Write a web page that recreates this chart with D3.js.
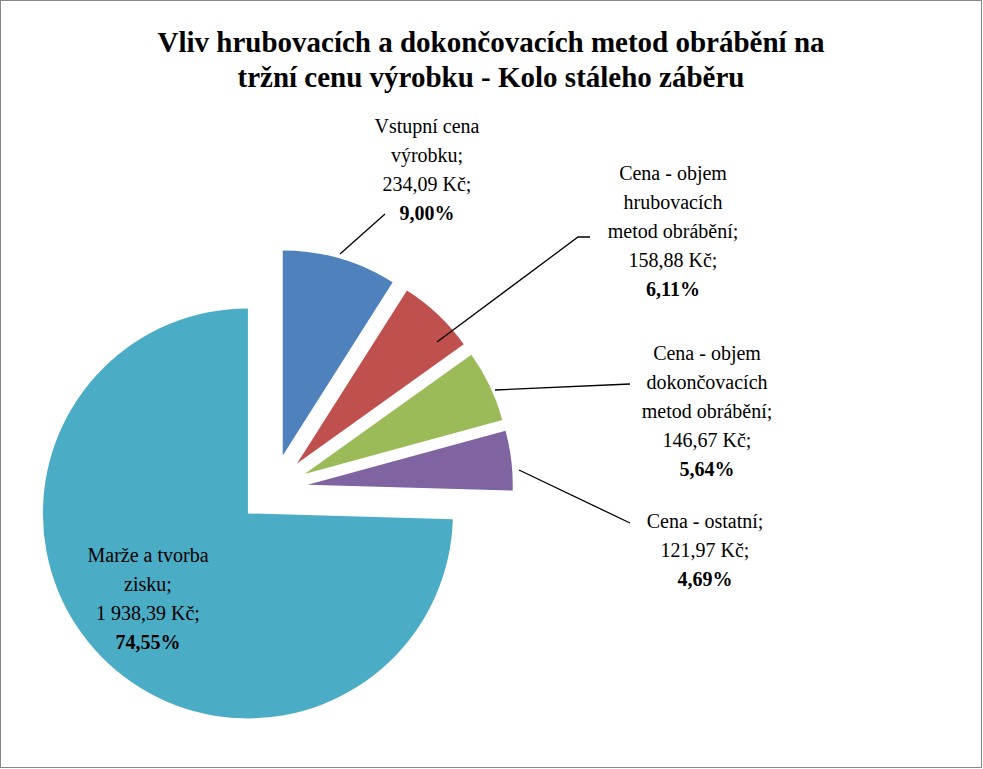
<!DOCTYPE html>
<html><head><meta charset="utf-8">
<script src="https://cdn.jsdelivr.net/npm/d3@7"></script>
<style>body{margin:0;background:#fff}</style></head>
<body><svg id="c" width="983" height="769"></svg>
<script>
const categories = ["Vstupní cena výrobku","Cena - objem hrubovacích metod obrábění","Cena - objem dokončovacích metod obrábění","Cena - ostatní","Marže a tvorba zisku"];
const values = [234.09,158.88,146.67,121.97,1938.39];
const percents = ["9,00%","6,11%","5,64%","4,69%","74,55%"];
const colors = ["#4f81bd","#c0504d","#9bbb59","#8064a2","#4bacc6"];
const labelLines = [
  ["Vstupní cena","výrobku;","234,09 Kč;"],
  ["Cena - objem","hrubovacích","metod obrábění;","158,88 Kč;"],
  ["Cena - objem","dokončovacích","metod obrábění;","146,67 Kč;"],
  ["Cena - ostatní;","121,97 Kč;"],
  ["Marže a tvorba","zisku;","1 938,39 Kč;"]
];
// label layout: center x, first baseline y, leader line points
const labelLayout = [
  {x:427,y:133,line:[[340,254],[385,214]]},
  {x:673,y:180,line:[[437,342],[578,237],[590,237]]},
  {x:707,y:360,line:[[495,390],[630,384]]},
  {x:705,y:528,line:[[519,470],[630,523]]},
  {x:148,y:562,line:null}
];
const svg = d3.select("#c");
svg.append("rect").attr("x",0.5).attr("y",0.5).attr("width",981).attr("height",767).attr("fill","#fff").attr("stroke","#888");
svg.append("text").attr("x",491).attr("y",52).attr("text-anchor","middle").attr("font-family","Liberation Serif").attr("font-weight","bold").attr("font-size",29).text("Vliv hrubovacích a dokončovacích metod obrábění na");
svg.append("text").attr("x",491).attr("y",87).attr("text-anchor","middle").attr("font-family","Liberation Serif").attr("font-weight","bold").attr("font-size",29).text("tržní cenu výrobku - Kolo stáleho záběru");
const cx=273, cy=489, r=205, ex=35;
const pie = d3.pie().sort(null).value(d=>d)(values);
const arc = d3.arc().innerRadius(0).outerRadius(r);
pie.forEach((p,i)=>{
  const a=(p.startAngle+p.endAngle)/2;
  svg.append("path").attr("d",arc(p)).attr("fill",colors[i])
    .attr("transform",`translate(${cx+ex*Math.sin(a)},${cy-ex*Math.cos(a)})`);
});
labelLayout.forEach((L,i)=>{
  if(L.line) svg.append("path").attr("d",d3.line()(L.line)).attr("fill","none").attr("stroke","#000").attr("stroke-width",1.3);
  const t=svg.append("text").attr("text-anchor","middle").attr("font-family","Liberation Serif").attr("font-size",20);
  const lines=labelLines[i].concat([percents[i]]);
  lines.forEach((s,j)=>t.append("tspan").attr("x",L.x).attr("y",L.y+j*29).attr("font-weight",j===lines.length-1?"bold":"normal").text(s));
});
</script></body></html>
